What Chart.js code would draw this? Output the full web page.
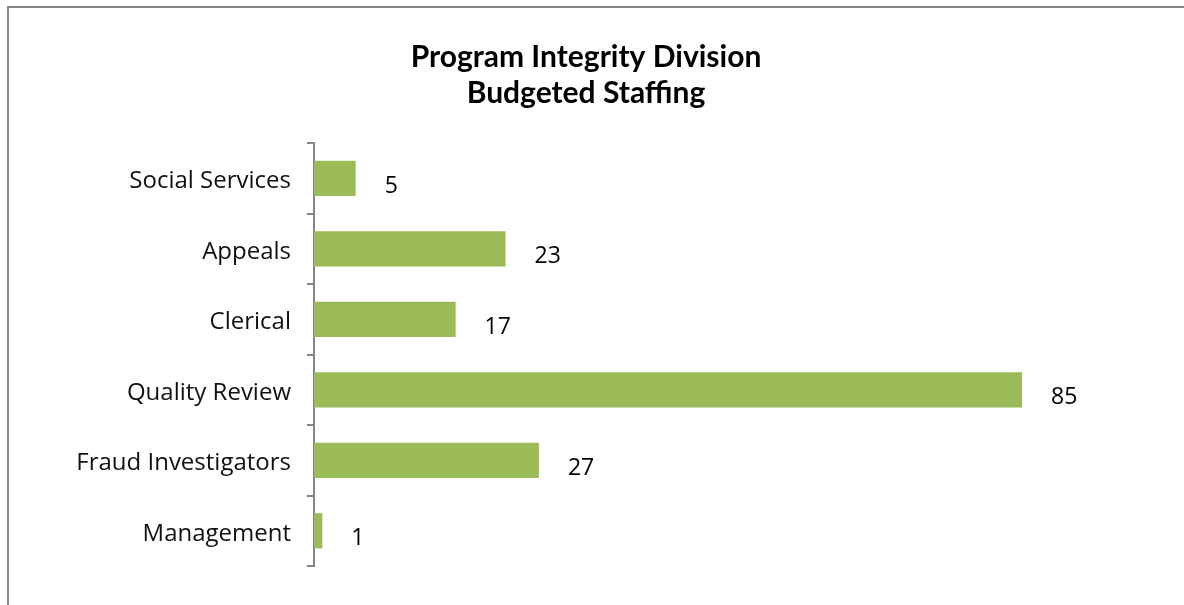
<!DOCTYPE html>
<html>
<head>
<meta charset="utf-8">
<script src="https://cdn.jsdelivr.net/npm/chart.js@4"></script>
<style>
  html, body { margin: 0; padding: 0; background: #fff; }
  #wrap { position: relative; width: 1184px; height: 605px; overflow: hidden; }
  #frame { position: absolute; left: 7px; top: 6px; width: 1200px; height: 620px;
           border-left: 2px solid #878787; border-top: 2px solid #878787; pointer-events: none; }
</style>
</head>
<body>
<div id="wrap">
  <canvas id="myChart" width="1184" height="605"></canvas>
  <div id="frame"></div>
</div>
<script>
var categories = ['Social Services', 'Appeals', 'Clerical', 'Quality Review', 'Fraud Investigators', 'Management'];
var staff = [5, 23, 17, 85, 27, 1];
var titleLines = ['Program Integrity Division', 'Budgeted Staffing'];

// value labels to the right of each bar
var valueLabels = {
    id: 'valueLabels',
    afterDatasetsDraw: function (chart) {
        var ctx = chart.ctx;
        var meta = chart.getDatasetMeta(0);
        ctx.save();
        ctx.font = '23px "Open Sans"';
        ctx.fillStyle = '#000';
        ctx.textAlign = 'left';
        ctx.textBaseline = 'middle';
        meta.data.forEach(function (bar, i) {
            ctx.fillText(staff[i], bar.x + 29, bar.y + 8);
        });
        ctx.restore();
    }
};

var ctx = document.getElementById('myChart');
var myChart = new Chart(ctx, {
    type: 'bar',
    data: {
        labels: categories,
        datasets: [{
            label: 'Budgeted Staffing',
            data: staff,
            backgroundColor: '#9BBB59',
            barPercentage: 0.5,
            categoryPercentage: 1.0
        }]
    },
    options: {
        indexAxis: 'y',
        responsive: false,
        animation: false,
        layout: { padding: { left: 0, right: 12, top: 0, bottom: 39 } },
        plugins: {
            legend: { display: false },
            tooltip: { enabled: false },
            title: {
                display: true,
                text: titleLines,
                color: '#000',
                font: { family: 'Lato', size: 30, weight: 'bold', lineHeight: 1.2 },
                padding: { top: 39, bottom: 32 }
            }
        },
        scales: {
            x: {
                display: false,
                min: 0,
                max: 103
            },
            y: {
                afterFit: function (scale) { scale.width = 314; },
                border: { display: true, color: '#868686', width: 2 },
                grid: { drawOnChartArea: false, drawTicks: true, tickLength: 7, color: '#868686', lineWidth: 2 },
                ticks: { color: '#111', padding: 16, labelOffset: 3, font: { family: 'Open Sans', size: 24 } }
            }
        }
    },
    plugins: [valueLabels]
});
</script>
</body>
</html>
